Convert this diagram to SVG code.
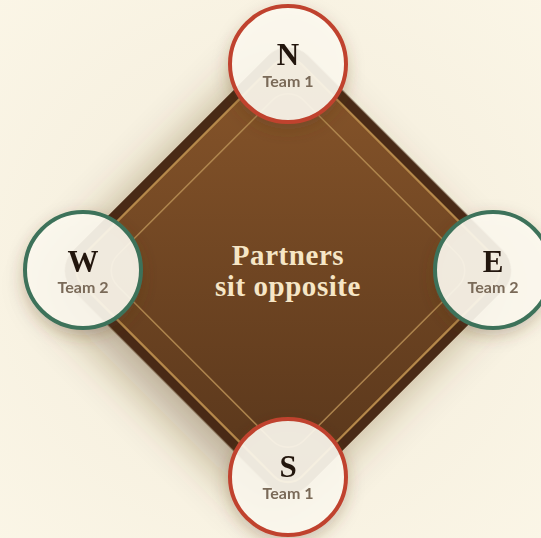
<svg xmlns="http://www.w3.org/2000/svg" width="541" height="538" viewBox="0 0 541 538">
  <defs>
    <radialGradient id="bg" cx="50%" cy="50%" r="75%">
      <stop offset="0" stop-color="#f3ecda"/>
      <stop offset="1" stop-color="#fbf6e7"/>
    </radialGradient>
    <linearGradient id="felt" gradientUnits="userSpaceOnUse" x1="122" y1="104.5" x2="454" y2="436.5">
      <stop offset="0" stop-color="#8a572b"/>
      <stop offset="1" stop-color="#55341a"/>
    </linearGradient>
    <filter id="tableShadow" x="-40%" y="-40%" width="180%" height="180%">
      <feDropShadow dx="0" dy="22" stdDeviation="22" flood-color="#5a3c1c" flood-opacity="0.38"/>
    </filter>
    <filter id="seatShadow" x="-40%" y="-40%" width="180%" height="180%">
      <feDropShadow dx="0" dy="6" stdDeviation="8" flood-color="#5a3c1c" flood-opacity="0.28"/>
    </filter>
    <style>
      .seat { fill: #fdf9ef; fill-opacity: 0.9; stroke-width: 4; }
      .t1 { stroke: #c0432f; }
      .t2 { stroke: #3e725a; }
      .dir { font-family: "Liberation Serif", "DejaVu Serif", serif; font-weight: 700; font-size: 31px; fill: #24160d; text-anchor: middle; }
      .team { font-family: Lato, "Liberation Sans", sans-serif; font-weight: 700; font-size: 16px; fill: #7a6a58; text-anchor: middle; }
      .center { font-family: "Liberation Serif", "DejaVu Serif", serif; font-weight: 700; font-size: 29px; letter-spacing: 0.55px; fill: #f6e6c6; text-anchor: middle; }
    </style>
  </defs>
  <rect x="0" y="0" width="541" height="538" fill="url(#bg)"/>

  <g id="table">
    <g transform="rotate(45 288 270.5)">
      <rect x="122" y="104.5" width="332" height="332" rx="28" fill="#4a2b15" filter="url(#tableShadow)"/>
      <rect x="132.5" y="115" width="311" height="311" rx="20" fill="url(#felt)" stroke="#b5884a" stroke-width="2.2"/>
      <rect x="156.6" y="139.1" width="262.8" height="262.8" rx="22" fill="none" stroke="#b48b52" stroke-width="1.6" stroke-opacity="0.9"/>
    </g>
    <text class="center" x="288" y="265">Partners</text>
    <text class="center" x="288" y="296">sit opposite</text>
  </g>

  <g id="connectors"></g>

  <g id="seat-N" filter="url(#seatShadow)">
    <circle class="seat t1" cx="288" cy="64" r="58"/>
    <text class="dir" x="288" y="65">N</text>
    <text class="team" x="288" y="87">Team 1</text>
  </g>
  <g id="seat-W" filter="url(#seatShadow)">
    <circle class="seat t2" cx="83" cy="270" r="58"/>
    <text class="dir" x="83" y="272">W</text>
    <text class="team" x="83" y="293">Team 2</text>
  </g>
  <g id="seat-E" filter="url(#seatShadow)">
    <circle class="seat t2" cx="493" cy="270" r="58"/>
    <text class="dir" x="493" y="272">E</text>
    <text class="team" x="493" y="293">Team 2</text>
  </g>
  <g id="seat-S" filter="url(#seatShadow)">
    <circle class="seat t1" cx="288" cy="477" r="58"/>
    <text class="dir" x="288" y="477">S</text>
    <text class="team" x="288" y="499">Team 1</text>
  </g>
</svg>
